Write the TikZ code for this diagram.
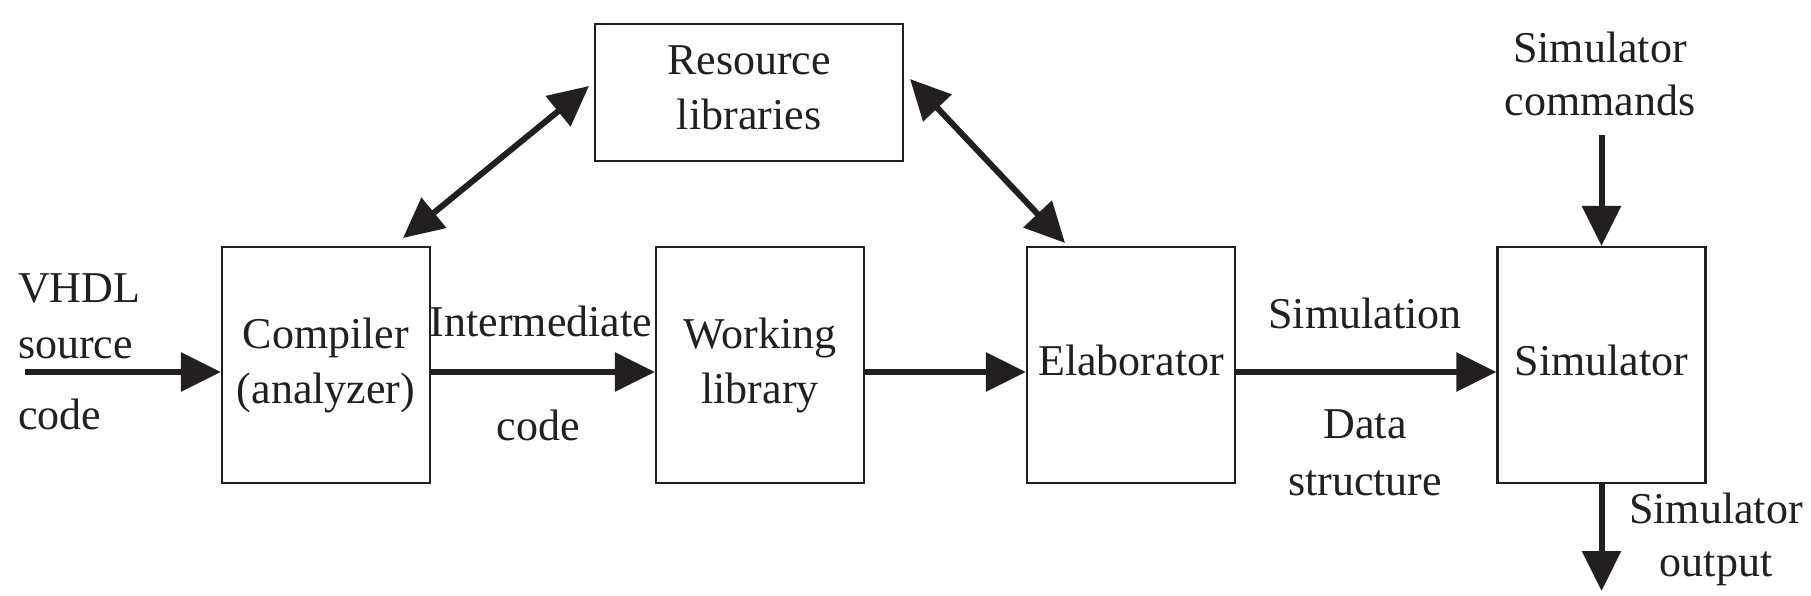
\documentclass[tikz,border=0pt]{standalone}
\usepackage{fontspec}
\setmainfont{Liberation Serif}
\usetikzlibrary{arrows.meta}
\definecolor{ink}{HTML}{231F20}
\begin{document}
\begin{tikzpicture}[x=1pt,y=-1pt,
  every node/.style={font=\fontsize{44}{55}\selectfont, inner sep=0pt, text=ink},
  blk/.style={draw=ink, line width=2.2pt, minimum width=208pt, minimum height=236pt, align=center},
  lbl/.style={anchor=base},
  conn/.style={draw=ink, line width=6pt, -{Triangle[length=40pt,width=38pt]}},
  biconn/.style={draw=ink, line width=6pt, {Triangle[length=40pt,width=38pt]}-{Triangle[length=40pt,width=38pt]}}]
\useasboundingbox (0,0) rectangle (1811,596);
\fill[white] (0,0) rectangle (1811,596);

% boxes
\node[blk, minimum width=308pt, minimum height=137pt] (res) at (749,92.5) {Resource\\libraries\vphantom{y}};
\node[blk] (comp) at (326,365) {Compiler\\(analyzer)};
\node[blk] (work) at (760,365) {Working\\library};
\node[blk, text depth=10pt] (elab) at (1131,365) {Elaborator};
\node[blk, text depth=10pt] (sim) at (1601.5,365) {Simulator};

% free ends
\coordinate (vin) at (25,372);
\coordinate (cmdin) at (1601.5,135);
\coordinate (simout) at (1601.5,591);
\coordinate (compup) at (403,238);
\coordinate (resleft) at (589,86);
\coordinate (resright) at (910,79);
\coordinate (elabup) at (1065,243);

% connectors
\draw[conn] (vin) -- ([yshift=-7pt]comp.west);
\draw[conn] ([yshift=-7pt]comp.east) -- ([yshift=-7pt]work.west);
\draw[conn] ([yshift=-7pt]work.east) -- ([yshift=-7pt]elab.west);
\draw[conn] ([yshift=-7pt]elab.east) -- ([yshift=-7pt]sim.west);
\draw[conn] (cmdin) -- (sim.north);
\draw[conn] (sim.south) -- (simout);
\draw[biconn] (compup) -- (resleft);
\draw[biconn] (resright) -- (elabup);

% labels
\node[anchor=base west] (vhdl) at (18,302) {VHDL};
\node[anchor=base west] (vsrc) at (18,358) {source};
\node[anchor=base west] (vcode) at (18,429) {code};
\node[lbl] (inter) at (541,336) {Intermediate};
\node[lbl] (icode) at (538,440) {code};
\node[lbl] (simu) at (1365,328) {Simulation};
\node[lbl] (data) at (1365,438) {Data};
\node[lbl] (struct) at (1365,495) {structure};
\node[lbl] (cmd1) at (1600,63) {Simulator};
\node[lbl] (cmd2) at (1600,116) {commands};
\node[lbl] (out1) at (1716,523) {Simulator};
\node[lbl] (out2) at (1716,576) {output};
\end{tikzpicture}
\end{document}
